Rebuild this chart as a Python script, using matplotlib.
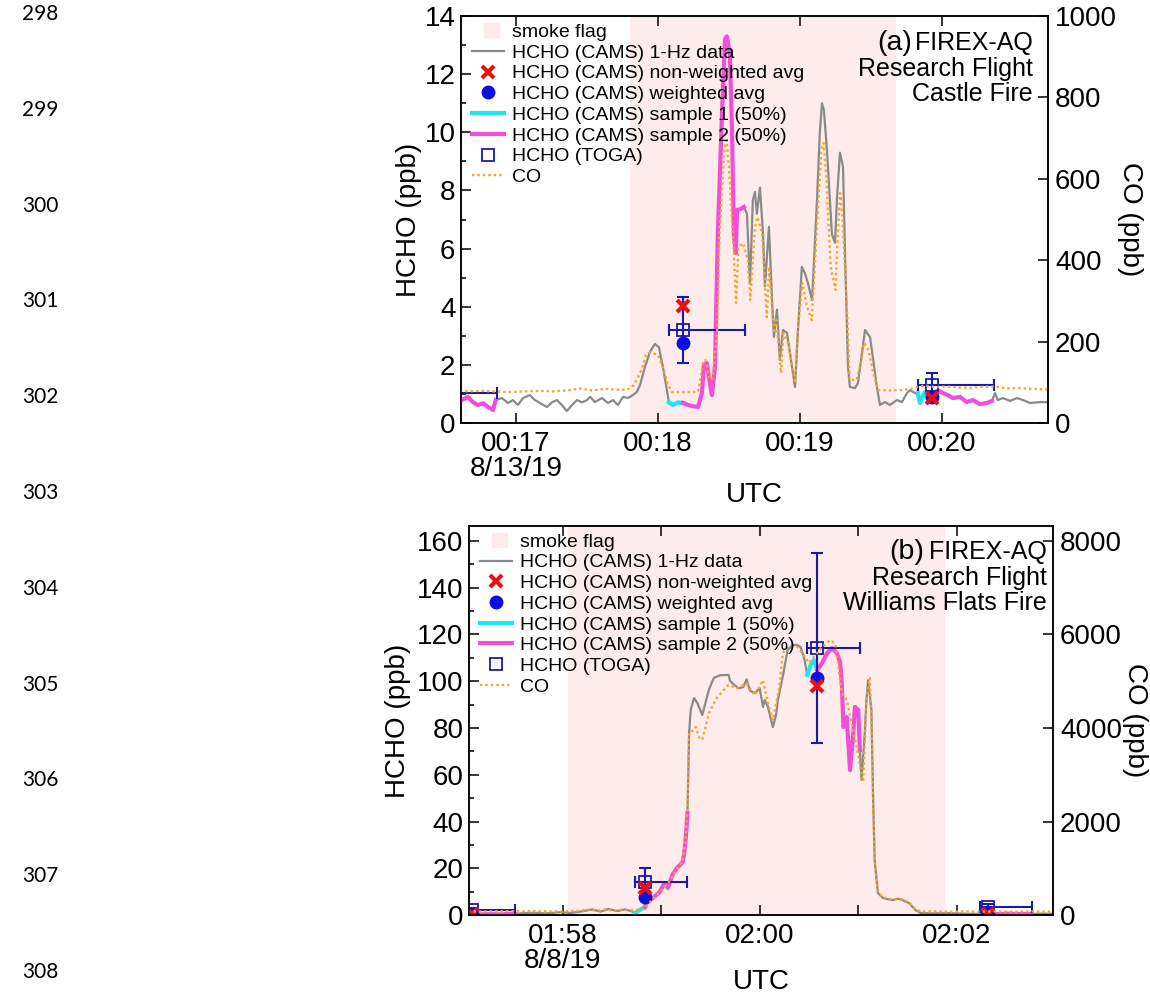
import numpy as np
import matplotlib
matplotlib.use("Agg")
import matplotlib.pyplot as plt
import matplotlib.patches as mpatches
from matplotlib.legend_handler import HandlerPatch
from matplotlib.ticker import MultipleLocator

plt.rcParams['font.family'] = ['Liberation Sans', 'DejaVu Sans']

# ---------------- panel (a): Castle Fire, times in s after 00:00 UTC 8/13/19
a_t = [994.2, 997.2, 999.7, 1001.8, 1003.9, 1006.1, 1008.2, 1010.3, 1011.5, 1014.1,
       1016.6, 1018.7, 1020.8, 1023.0, 1025.9, 1028.0, 1030.1, 1033.1, 1035.2, 1037.3,
       1039.4, 1041.5, 1043.7, 1045.8, 1047.9, 1050.0, 1051.3, 1053.4, 1056.3, 1058.9,
       1061.0, 1063.1, 1065.2, 1067.3, 1069.4, 1071.1, 1072.4, 1074.5, 1076.6, 1078.7,
       1080.4, 1082.1, 1083.8, 1084.6, 1086.3, 1088.4, 1090.6, 1092.7, 1094.8, 1096.9,
       1098.6, 1099.4, 1100.7, 1101.5, 1102.8, 1104.1, 1105.3, 1107.0, 1108.3, 1109.1,
       1110.4, 1111.3, 1112.1, 1112.9, 1113.4, 1114.6, 1116.3, 1117.6, 1118.9, 1120.1,
       1121.0, 1121.8, 1123.1, 1124.4, 1125.2, 1126.9, 1128.2, 1129.0, 1130.3, 1131.5,
       1132.8, 1134.5, 1135.8, 1137.9, 1139.1, 1140.8, 1142.1, 1143.4, 1145.1, 1147.2,
       1148.4, 1149.3, 1150.1, 1151.4, 1153.5, 1154.8, 1155.6, 1156.9, 1158.2, 1159.0,
       1160.3, 1161.1, 1163.2, 1164.5, 1166.2, 1167.5, 1169.6, 1170.8, 1172.5, 1173.8,
       1175.9, 1178.0, 1181.0, 1183.1, 1185.2, 1186.5, 1188.6, 1189.8, 1190.7, 1191.5,
       1192.8, 1194.3, 1195.8, 1198.3, 1200.4, 1202.5, 1204.6, 1207.6, 1210.5, 1213.1,
       1216.0, 1219.0, 1221.1, 1222.4, 1223.6, 1225.8, 1228.7, 1231.7, 1234.2, 1237.2,
       1241.4, 1244.4, 1246.0]
a_hcho = [0.80, 0.79, 0.90, 0.72, 0.62, 0.68, 0.55, 0.45, 0.79, 0.86,
          0.69, 0.79, 0.62, 0.86, 0.96, 0.79, 0.69, 0.55, 0.71, 0.79,
          0.62, 0.41, 0.62, 0.79, 0.71, 0.79, 0.90, 0.72, 0.86, 0.69,
          0.79, 0.62, 0.90, 0.86, 0.96, 1.07, 1.30, 1.93, 2.44, 2.72,
          2.61, 1.93, 1.13, 0.72, 0.62, 0.71, 0.69, 0.62, 0.58, 0.55,
          1.03, 2.00, 2.06, 1.58, 0.96, 1.93, 6.50, 10.5, 13.2, 13.3,
          12.7, 10.0, 6.50, 5.85, 7.33, 7.35, 7.43, 7.20, 4.80, 7.67,
          7.95, 7.20, 8.10, 6.50, 4.70, 6.75, 4.23, 2.96, 3.90, 2.17,
          3.20, 3.10, 2.40, 1.24, 3.10, 5.37, 5.15, 4.80, 4.23, 7.67,
          10.0, 11.0, 10.77, 9.40, 6.50, 6.20, 7.67, 9.30, 8.80, 5.95,
          1.93, 1.24, 1.20, 1.37, 2.40, 3.20, 2.96, 2.27, 1.24, 0.62,
          0.72, 0.62, 0.79, 0.72, 1.03, 1.13, 1.03, 1.03, 0.69, 0.86,
          1.07, 0.85, 0.95, 1.13, 1.03, 0.96, 0.86, 0.90, 0.72, 0.79,
          0.65, 0.69, 0.76, 1.03, 0.79, 0.86, 0.76, 0.86, 0.79, 0.69,
          0.72, 0.72, 0.72]
a_co_t = [994, 1000, 1006, 1012, 1018, 1024, 1030, 1036, 1042, 1047, 1052, 1058, 1063,
          1067, 1069, 1071, 1073, 1075, 1077, 1080, 1082, 1084, 1086, 1090, 1094, 1097,
          1099, 1100, 1102, 1103, 1105, 1106, 1108, 1109, 1110, 1112, 1113, 1114, 1116,
          1118, 1119, 1121, 1122, 1124, 1126, 1127, 1129, 1130, 1132, 1133, 1135, 1138,
          1139, 1141, 1143, 1145, 1147, 1149, 1150, 1151, 1153, 1155, 1156, 1157, 1158,
          1160, 1161, 1164, 1166, 1167, 1169, 1171, 1173, 1178, 1183, 1187, 1190, 1193,
          1197, 1202, 1207, 1212, 1217, 1222, 1227, 1232, 1237, 1242, 1246]
a_co = [79, 78, 79, 77, 76, 78, 79, 78, 80, 85, 80, 84, 82,
        82, 88, 106, 130, 167, 174, 167, 138, 98, 76, 76, 76, 77,
        147, 155, 106, 110, 221, 467, 671, 695, 629, 425, 295, 432, 442,
        400, 302, 482, 506, 467, 260, 383, 221, 253, 123, 221, 197, 98,
        221, 344, 285, 253, 467, 671, 688, 614, 383, 327, 467, 565, 506,
        260, 106, 106, 155, 197, 179, 123, 81, 80, 81, 84, 90, 92,
        88, 90, 87, 86, 89, 90, 85, 86, 84, 83, 82]
a_toga_t = [985.8, 1090.6, 1195.8]
a_toga = [1.03, 3.20, 1.30]
a_toga_err = [0.30, 1.15, 0.43]
a_toga_lo = [6, 6, 6]
a_toga_hi = [26, 26, 26]
a_nonweighted = [0.90, 4.02, 0.86]
a_weighted = [0.80, 2.75, 0.90]
a_smoke = [1068.2, 1180.6]
a_date = "8/13/19"

# ---------------- panel (b): Williams Flats Fire, s after 00:00 UTC 8/8/19
b_t = [7019, 7025, 7030, 7036, 7042, 7048, 7051, 7055, 7062, 7070, 7078, 7085, 7092,
       7098, 7103, 7108, 7113, 7118, 7122, 7124, 7127, 7130, 7131, 7133, 7135, 7139,
       7142, 7144, 7147, 7150, 7153, 7154, 7155, 7156, 7157, 7158, 7160, 7162, 7165,
       7169, 7172, 7176, 7181, 7182, 7187, 7190, 7192, 7194, 7197, 7200, 7202, 7203,
       7205, 7208, 7210, 7211, 7214, 7217, 7220, 7223, 7225, 7227, 7229, 7231, 7233,
       7235, 7238, 7241, 7244, 7247, 7249, 7250, 7251, 7253, 7255, 7257, 7258, 7260,
       7261, 7262, 7264, 7265, 7266, 7268, 7269, 7270, 7272, 7275, 7278, 7281, 7284,
       7287, 7291, 7295, 7298, 7305, 7315, 7325, 7333, 7339, 7345, 7352, 7358, 7365,
       7372, 7380]
b_hcho = [0.5, 0.5, 0.3, 0.4, 0.3, 0.5, 0.4, 0.8, 1.0, 0.7, 1.2, 0.9, 1.6,
          2.4, 1.5, 2.6, 1.7, 2.4, 1.6, 1.0, 2.2, 3.4, 5.1, 6.4, 7.3, 9.8,
          13.7, 11.6, 17.5, 20.5, 22.5, 26.5, 33.4, 43.6, 78.0, 88.0, 92.8, 90.7, 85.6,
          96.3, 101.4, 102.6, 102.7, 100.0, 97.0, 97.5, 100.8, 96.0, 95.0, 97.0, 89.0, 92.0,
          89.0, 80.4, 85.7, 91.7, 101.9, 113.4, 115.5, 115.5, 114.5, 110.0, 102.7, 107.0, 109.0,
          104.8, 107.8, 112.0, 114.2, 112.0, 108.0, 99.0, 80.4, 84.7, 62.0, 77.9, 89.0, 87.7,
          70.6, 57.8, 78.0, 92.0, 100.5, 88.0, 52.0, 23.5, 9.4, 7.3, 6.8, 6.4, 7.0,
          6.4, 5.1, 2.1, 0.9, 0.7, 0.8, 0.6, 0.5, 0.5, 0.4, 0.6, 0.4, 0.5,
          0.6, 0.5]
b_co_t = [7019, 7028, 7037, 7046, 7055, 7064, 7073, 7082, 7090, 7096, 7101, 7106, 7111,
          7116, 7121, 7126, 7130, 7135, 7140, 7145, 7150, 7153, 7155, 7156, 7157, 7158,
          7161, 7163, 7165, 7167, 7169, 7174, 7181, 7186, 7192, 7197, 7202, 7205, 7208,
          7212, 7214, 7217, 7223, 7226, 7230, 7233, 7238, 7243, 7246, 7248, 7250, 7253,
          7256, 7259, 7262, 7263, 7265, 7267, 7268, 7269, 7270, 7272, 7275, 7281, 7287,
          7291, 7295, 7298, 7305, 7315, 7325, 7335, 7345, 7355, 7365, 7372, 7380]
b_co = [80, 75, 80, 85, 80, 85, 75, 80, 90, 115, 95, 120, 95,
        115, 100, 110, 150, 350, 520, 720, 1000, 1150, 1700, 2300, 3900, 3900,
        4020, 3800, 3745, 4020, 4320, 4650, 4920, 4850, 4950, 4700, 5025, 4535, 4170,
        4875, 5600, 5735, 5735, 5600, 5390, 5520, 5735, 5880, 5800, 5300, 4750, 4600,
        4100, 3600, 3035, 2850, 4600, 5070, 4235, 2600, 1200, 500, 380, 330, 340,
        270, 120, 75, 80, 70, 80, 72, 80, 72, 80, 75, 78]
b_toga_t = [7025, 7130, 7235, 7339]
b_toga = [2.0, 14.1, 114.2, 3.4]
b_toga_err = [1.0, 6.0, 40.5, 1.5]
b_toga_lo = [6, 6, 6, 5]
b_toga_hi = [26, 26, 26, 27]
b_nonweighted = [0.4, 11.6, 98.0, 0.4]
b_weighted = [0.6, 7.7, 101.4, 0.6]
b_smoke = [7083.2, 7312.8]
b_date = "8/8/19"

line_numbers = list(range(298, 309))

PINK = '#fdeceb'
GRAY = '#8a8a8a'
CYAN = '#1ee6f0'
MAG = '#f24ed9'
ORANGE = '#f0a828'
RED = '#ee1010'
BLUE = '#0a10e0'
NAVY = '#1a1aa8'


def small_rect(legend, orig_handle, xdescent, ydescent, width, height, fontsize):
    return mpatches.Rectangle((-xdescent + 0.38 * width, -ydescent), 0.45 * width, height)


def hhmm(s):
    return "%02d:%02d" % (int(s // 3600), int(s % 3600 // 60))


def panel(rect, t, hcho, co_t, co, tg_t, tg, tg_err, tg_lo, tg_hi, nw, w, smoke,
          xlim, ylim, co_max, label_step, ymajor, yminor, co_step, date, tag, site,
          tagx, ylabpad, xlabpad, ys, rx):
    t = np.array(t)
    hcho = np.array(hcho)
    ax = fig.add_axes(rect)
    ax.axvspan(smoke[0], smoke[1], color=PINK, lw=0, zorder=0)
    h_smoke = mpatches.Patch(color=PINK)
    h_gray, = ax.plot(t, hcho, color=GRAY, lw=1.6, zorder=2)
    for tc, lo, hi in zip(tg_t, tg_lo, tg_hi):
        m1 = (t >= tc - lo) & (t <= tc)
        m2 = (t >= tc) & (t <= tc + hi)
        h_s1, = ax.plot(t[m1], hcho[m1], color=CYAN, lw=3, zorder=3)
        h_s2, = ax.plot(t[m2], hcho[m2], color=MAG, lw=3, zorder=3)
    ax.errorbar(tg_t, tg, yerr=tg_err, xerr=[tg_lo, tg_hi], fmt='none', ecolor=NAVY,
                elinewidth=1.5, capsize=4.5, capthick=1.5, zorder=5)
    h_toga, = ax.plot(tg_t, tg, 's', ms=8, mfc='none', mec=NAVY, mew=1.3, zorder=6)
    h_w, = ax.plot(tg_t, w, 'o', color=BLUE, ms=9, zorder=7)
    h_nw, = ax.plot(tg_t, nw, 'x', color=RED, ms=8, mew=3, zorder=8)

    ax.set_xlim(xlim)
    ax.set_ylim(ylim)
    ticks = np.arange(np.ceil(xlim[0] / 60) * 60, xlim[1], 60)
    major = [x for x in ticks if x % label_step == 0]
    labels = [hhmm(x) for x in major]
    labels[0] += "\n" + date
    ax.set_xticks(major, labels)
    for lbl in ax.get_xticklabels():
        lbl.set_linespacing(0.95)
    ax.set_xticks([x for x in ticks if x % label_step != 0], minor=True)
    ax.yaxis.set_major_locator(MultipleLocator(ymajor))
    ax.yaxis.set_minor_locator(MultipleLocator(yminor))
    ax.tick_params(which='both', direction='in', top=True, width=1.1, labelsize=20)
    ax.tick_params(which='major', length=7)
    ax.tick_params(axis='y', which='minor', length=3.5)
    ax.tick_params(axis='x', which='minor', length=7)
    ax.tick_params(axis='x', pad=6)
    ax.tick_params(axis='y', pad=4)
    ax.set_ylabel('HCHO (ppb)', fontsize=20, labelpad=ylabpad)
    ax.set_xlabel('UTC', fontsize=20, labelpad=xlabpad)

    ax2 = ax.twinx()
    h_co, = ax2.plot(co_t, co, color=ORANGE, lw=1.7, ls=(0, (1, 1.3)))
    ax2.set_ylim(0, co_max)
    ax2.yaxis.set_major_locator(MultipleLocator(co_step))
    ax2.tick_params(direction='in', length=7, width=1.1, labelsize=20, pad=5)
    ax2.set_ylabel('CO (ppb)', fontsize=20, rotation=270, va='bottom', labelpad=0)
    for a in (ax, ax2):
        for s in a.spines.values():
            s.set_linewidth(1.1)

    handles = [h_smoke, h_gray, h_nw, h_w, h_s1, h_s2, h_toga, h_co]
    names = ['smoke flag', 'HCHO (CAMS) 1-Hz data', 'HCHO (CAMS) non-weighted avg',
             'HCHO (CAMS) weighted avg', 'HCHO (CAMS) sample 1 (50%)',
             'HCHO (CAMS) sample 2 (50%)', 'HCHO (TOGA)', 'CO']
    ax2.legend(handles, names, loc='upper left', bbox_to_anchor=(0.019, 0.982),
               frameon=False, fontsize=14, handlelength=1.65, handletextpad=0.4,
               labelspacing=0.16, borderpad=0, borderaxespad=0, numpoints=1,
               handler_map={h_smoke: HandlerPatch(patch_func=small_rect)})

    tr = ax.transAxes
    for line, y in zip(['FIREX-AQ', 'Research Flight', site], ys):
        ax2.text(rx, y, line, transform=tr, ha='right', va='baseline', fontsize=18)
    ax2.text(tagx, ys[0], tag, transform=tr, ha='right', va='baseline', fontsize=20.5)
    return ax, ax2


fig = plt.figure(figsize=(11.5, 9.97), dpi=100)

panel([0.4009, 0.5757, 0.5104, 0.4082], a_t, a_hcho, a_co_t, a_co, a_toga_t, a_toga,
      a_toga_err, a_toga_lo, a_toga_hi, a_nonweighted, a_weighted, a_smoke,
      (996.8, 1244.8), (0, 14), 1000, 60, 2, 1, 200, a_date, '(a)', 'Castle Fire',
      0.768, 2, 0, [0.9165, 0.8526, 0.7912], 0.9744)
panel([0.4078, 0.0822, 0.5078, 0.3902], b_t, b_hcho, b_co_t, b_co, b_toga_t, b_toga,
      b_toga_err, b_toga_lo, b_toga_hi, b_nonweighted, b_weighted, b_smoke,
      (7022.9, 7378.6), (0, 166.4), 8320, 120, 20, 10, 2000, b_date, '(b)',
      'Williams Flats Fire', 0.779, 4, -4, [0.9152, 0.8483, 0.7841], 0.9897)

for i, n in enumerate(line_numbers):
    fig.text(22 / 1150, 1 - (14 + i * 95.8) / 997, str(n), ha='left', va='center',
             fontsize=15, family=['Lato', 'DejaVu Sans'])

fig.savefig('out.png', dpi=100)
